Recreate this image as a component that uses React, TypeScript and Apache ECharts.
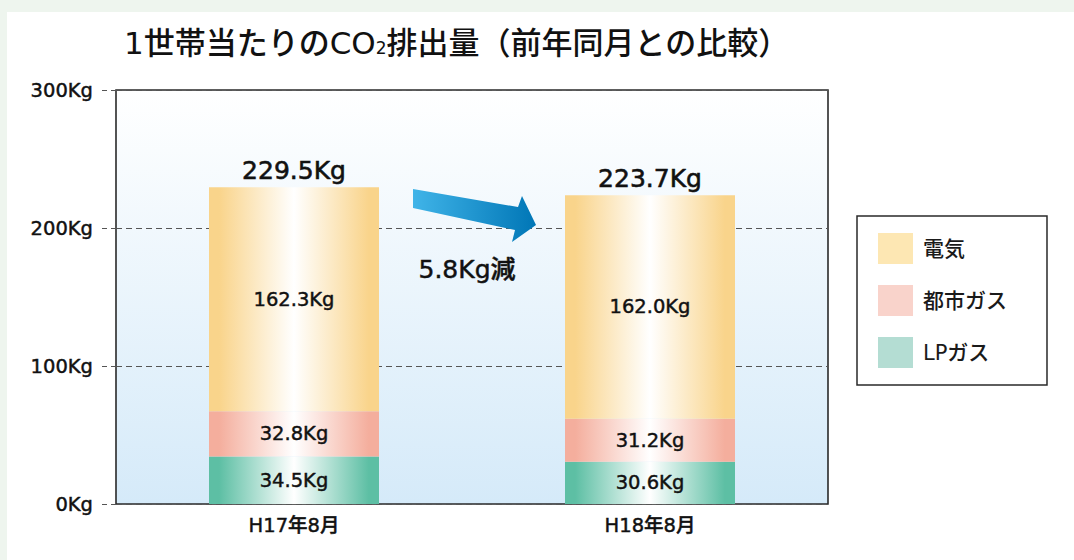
import React, { useEffect, useRef } from "react";
import * as echarts from "echarts";

const categories = ["H17年8月", "H18年8月"];
const lpGas = [34.5, 30.6];
const cityGas = [32.8, 31.2];
const electricity = [162.3, 162.0];
const totals = [229.5, 223.7];
const reductionText = "5.8Kg減";
const seriesNames = ["電気", "都市ガス", "LPガス"];
const legendColors = ["#fde7b3", "#f9d3cb", "#b4ddd3"];

const FONT = "'DejaVu Sans', 'Noto Sans CJK JP', sans-serif";
const INK = "#111";

function hGrad(edge: string, mid: string) {
  return new echarts.graphic.LinearGradient(0, 0, 1, 0, [
    { offset: 0, color: edge },
    { offset: 0.06, color: edge },
    { offset: 0.5, color: mid },
    { offset: 0.94, color: edge },
    { offset: 1, color: edge },
  ]);
}

export default function App() {
  const ref = useRef<HTMLDivElement>(null);
  useEffect(() => {
    if (!ref.current) return;
    const chart = echarts.init(ref.current, undefined, { renderer: "svg" });
    const fmt = (p: any) => Number(p.value).toFixed(1) + "Kg";
    const heavy = { textBorderColor: INK, textBorderWidth: 0.45 };
    const segLabel = {
      show: true,
      position: "inside" as const,
      formatter: fmt,
      fontSize: 19.5,
      fontWeight: 500,
      color: INK,
      fontFamily: FONT,
      ...heavy,
    };
    chart.setOption({
      animation: false,
      backgroundColor: "transparent",
      title: {
        left: 124,
        top: 27,
        padding: 0,
        text: "{a|1世帯当たりのCO}{s|2}{a|排出量（前年同月との比較）}",
        textStyle: {
          rich: {
            a: { fontSize: 31, fontWeight: 500, color: INK, fontFamily: FONT },
            s: { fontSize: 17, fontWeight: 500, color: INK, fontFamily: FONT, padding: [11, 0, 0, 0] },
          },
        },
      },
      legend: {
        orient: "vertical",
        left: 857,
        top: 216,
        itemWidth: 35,
        itemHeight: 31,
        itemGap: 21,
        padding: [17, 40, 17, 21],
        borderColor: "#2a2a2a",
        borderWidth: 1.5,
        backgroundColor: "#fff",
        icon: "rect",
        selectedMode: false,
        textStyle: { fontSize: 21, fontWeight: 500, color: "#1a1a1a", fontFamily: FONT, padding: [0, 0, 0, 5] },
        data: seriesNames.map((n, i) => ({ name: n, itemStyle: { color: legendColors[i] } })),
      },
      grid: {
        left: 116,
        right: 246,
        top: 90,
        bottom: 56,
        show: true,
        borderColor: "#2a2a2a",
        borderWidth: 1.6,
        backgroundColor: new echarts.graphic.LinearGradient(0, 0, 0, 1, [
          { offset: 0, color: "#ffffff" },
          { offset: 1, color: "#d5eaf9" },
        ]),
      },
      xAxis: {
        type: "category",
        data: categories,
        axisLine: { show: false },
        axisTick: { show: false },
        axisLabel: { fontSize: 19.5, fontWeight: 500, color: INK, margin: 12, fontFamily: FONT, ...heavy },
      },
      yAxis: {
        type: "value",
        min: 0,
        max: 300,
        interval: 100,
        axisLine: { show: false },
        axisTick: { show: true, length: 17, lineStyle: { color: "#555", type: [5, 4], width: 1.2 } },
        splitLine: { show: true, lineStyle: { color: "#555", type: [6, 4], width: 1.2 } },
        axisLabel: {
          formatter: "{value}Kg",
          fontSize: 19.5,
          fontWeight: 500,
          color: INK,
          margin: 23,
          fontFamily: FONT,
          ...heavy,
        },
      },
      series: [
        {
          name: "LPガス",
          type: "bar",
          stack: "total",
          barWidth: 170,
          data: lpGas,
          itemStyle: { color: hGrad("#5dbfa4", "#ffffff") },
          label: segLabel,
        },
        {
          name: "都市ガス",
          type: "bar",
          stack: "total",
          barWidth: 170,
          data: cityGas,
          itemStyle: { color: hGrad("#f4ae9d", "#ffffff") },
          label: segLabel,
        },
        {
          name: "電気",
          type: "bar",
          stack: "total",
          barWidth: 170,
          data: electricity,
          itemStyle: { color: hGrad("#f9d48b", "#ffffff") },
          label: segLabel,
        },
        {
          name: "合計",
          type: "line",
          data: totals,
          symbol: "circle",
          symbolSize: 1,
          showSymbol: true,
          itemStyle: { color: "rgba(0,0,0,0)" },
          lineStyle: { opacity: 0 },
          silent: true,
          label: {
            show: true,
            position: "top",
            distance: 4,
            formatter: fmt,
            fontSize: 25,
            fontWeight: 500,
            color: INK,
            fontFamily: FONT,
            textBorderColor: INK,
            textBorderWidth: 0.6,
          },
          z: 5,
        },
      ],
      graphic: [
        {
          type: "polygon",
          z: 10,
          shape: {
            points: [
              [413, 189],
              [518, 207],
              [522, 196],
              [536, 225],
              [512, 242],
              [515, 230],
              [413, 208],
            ],
          },
          style: {
            fill: new echarts.graphic.LinearGradient(0, 0, 1, 0, [
              { offset: 0, color: "#40b4e8" },
              { offset: 1, color: "#0076b6" },
            ]),
          },
        },
        {
          type: "text",
          z: 10,
          x: 467,
          y: 269,
          style: {
            text: reductionText,
            fontSize: 25,
            fontWeight: 500,
            fill: INK,
            stroke: INK,
            lineWidth: 0.5,
            fontFamily: FONT,
            align: "center",
            verticalAlign: "middle",
          },
        },
      ],
    });
    return () => chart.dispose();
  }, []);
  return (
    <div style={{ position: "fixed", left: 0, top: 0, width: 1074, height: 560, background: "#eef5ee" }}>
      <div style={{ position: "absolute", left: 7, top: 12, right: 0, bottom: 0, background: "#fff" }} />
      <div ref={ref} style={{ position: "absolute", left: 0, top: 0, width: 1074, height: 560 }} />
    </div>
  );
}
